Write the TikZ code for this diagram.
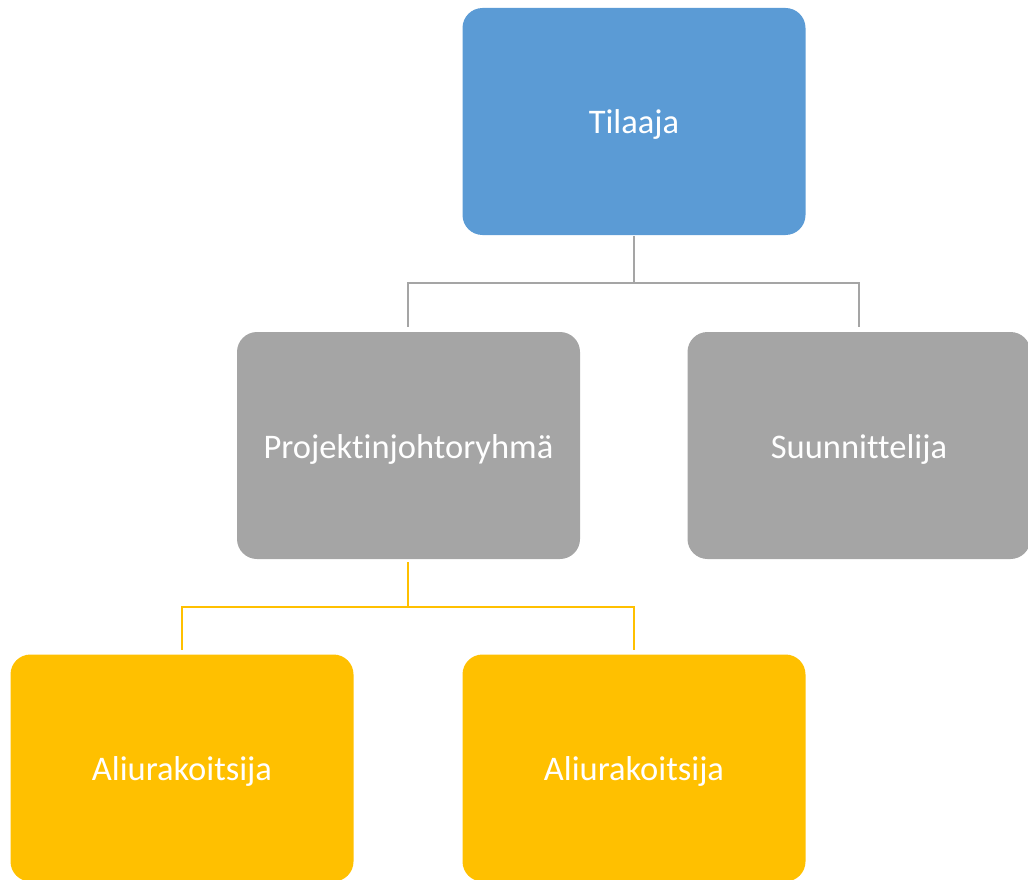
\documentclass[tikz,border=0pt]{standalone}
\usepackage{fontspec}
\setmainfont[Ligatures=NoCommon]{Carlito}
\definecolor{accblue}{HTML}{5B9BD5}
\definecolor{accgray}{HTML}{A5A5A5}
\definecolor{accgold}{HTML}{FFC000}
\begin{document}
\begin{tikzpicture}[x=1pt,y=-1pt,
  orgbox/.style={rounded corners=20pt, minimum width=343pt, minimum height=227pt,
    inner sep=0pt, text height=32pt, text depth=7pt, text=white,
    font=\fontsize{34.5}{40}\selectfont},
  link/.style={line width=2.6pt}]
\useasboundingbox (0,0) rectangle (1028,880);
% boxes
\node[orgbox, fill=accblue] (tilaaja) at (634,121.5) {Tilaaja};
\node[orgbox, fill=accgray] (pjr) at (408.5,445.5) {Projektinjohtoryhmä};
\node[orgbox, fill=accgray] (suun) at (859,445.5) {Suunnittelija};
\node[orgbox, fill=accgold] (ali1) at (182,768) {Aliurakoitsija};
\node[orgbox, fill=accgold] (ali2) at (634,768) {Aliurakoitsija};
% junction points
\coordinate (j1) at (634,283);
\coordinate (j2) at (408,607);
% top level connectors
\draw[link, accgray] ([yshift=-1pt]tilaaja.south) -- (j1);
\draw[link, accgray] (j1) -| ([yshift=5pt]pjr.north -| 408,0);
\draw[link, accgray] (j1) -| ([yshift=5pt]suun.north);
% second level connectors
\draw[link, accgold] ([yshift=-3pt]pjr.south -| j2) -- (j2);
\draw[link, accgold] (j2) -| ([yshift=4pt]ali1.north);
\draw[link, accgold] (j2) -| ([yshift=4pt]ali2.north);
\end{tikzpicture}
\end{document}
